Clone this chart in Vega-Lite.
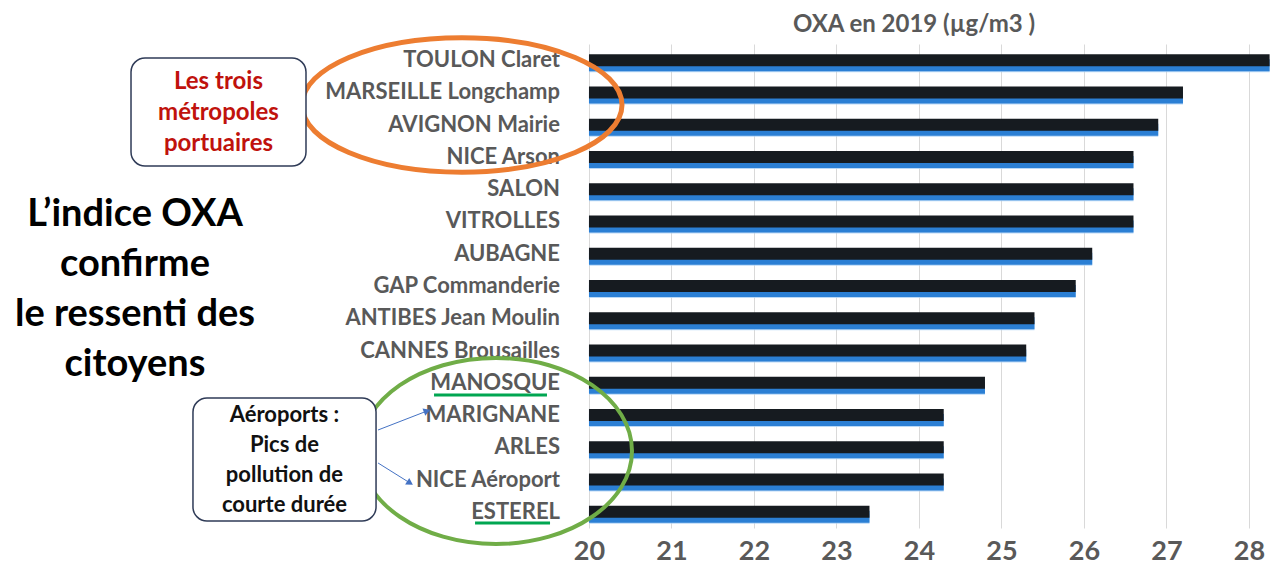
{
  "$schema": "https://vega.github.io/schema/vega-lite/v6.json",
  "width": 1272,
  "height": 484,
  "autosize": {"type": "none"},
  "padding": {"left": 0, "right": 0, "top": 44, "bottom": 50},
  "background": "white",
  "title": {"text": "OXA en 2019 (µg/m3 )", "anchor": "middle", "frame": "group", "dx": 278, "offset": -9, "font": "Lato", "fontSize": 24, "fontWeight": "bold", "color": "#595959"},
  "config": {"view": {"stroke": null}, "font": "Lato"},
  "datasets": {
    "bars": [
      {"station": "TOULON Claret", "oxa": 28.25},
      {"station": "MARSEILLE Longchamp", "oxa": 27.2},
      {"station": "AVIGNON Mairie", "oxa": 26.9},
      {"station": "NICE Arson", "oxa": 26.6},
      {"station": "SALON", "oxa": 26.6},
      {"station": "VITROLLES", "oxa": 26.6},
      {"station": "AUBAGNE", "oxa": 26.1},
      {"station": "GAP Commanderie", "oxa": 25.9},
      {"station": "ANTIBES Jean Moulin", "oxa": 25.4},
      {"station": "CANNES Brousailles", "oxa": 25.3},
      {"station": "MANOSQUE", "oxa": 24.8},
      {"station": "MARIGNANE", "oxa": 24.3},
      {"station": "ARLES", "oxa": 24.3},
      {"station": "NICE Aéroport", "oxa": 24.3},
      {"station": "ESTEREL", "oxa": 23.4}
    ]
  },
  "layer": [
    {
      "data": {"name": "bars"},
      "mark": {"type": "bar", "size": 10, "yOffset": 7, "color": "#a9d0f5", "opacity": 0.8},
      "encoding": {
        "y": {"field": "station", "type": "nominal", "sort": null, "axis": null},
        "x": {"field": "oxa", "type": "quantitative", "title": null, "scale": {"domain": [12.861, 28.279], "nice": false, "zero": false},
          "axis": {"values": [20, 21, 22, 23, 24, 25, 26, 27, 28], "grid": true, "gridColor": "#d9d9d9", "gridWidth": 1, "domain": false, "ticks": false, "labelFont": "Lato", "labelFontWeight": "bold", "labelFontSize": 27, "labelColor": "#595959", "labelPadding": 10}},
        "x2": {"datum": 20}
      }
    },
    {
      "data": {"name": "bars"},
      "mark": {"type": "bar", "size": 12, "yOffset": 5, "color": "#2b7fd4"},
      "encoding": {
        "y": {"field": "station", "type": "nominal", "sort": null, "axis": null},
        "x": {"field": "oxa", "type": "quantitative", "title": null, "scale": {"domain": [12.861, 28.279], "nice": false, "zero": false},
          "axis": {"values": [20, 21, 22, 23, 24, 25, 26, 27, 28], "grid": true, "gridColor": "#d9d9d9", "gridWidth": 1, "domain": false, "ticks": false, "labelFont": "Lato", "labelFontWeight": "bold", "labelFontSize": 27, "labelColor": "#595959", "labelPadding": 10}},
        "x2": {"datum": 20}
      }
    },
    {
      "data": {"name": "bars"},
      "mark": {"type": "bar", "size": 12, "color": "#161b20"},
      "encoding": {
        "y": {"field": "station", "type": "nominal", "sort": null, "axis": null},
        "x": {"field": "oxa", "type": "quantitative", "title": null, "scale": {"domain": [12.861, 28.279], "nice": false, "zero": false},
          "axis": {"values": [20, 21, 22, 23, 24, 25, 26, 27, 28], "grid": true, "gridColor": "#d9d9d9", "gridWidth": 1, "domain": false, "ticks": false, "labelFont": "Lato", "labelFontWeight": "bold", "labelFontSize": 27, "labelColor": "#595959", "labelPadding": 10}},
        "x2": {"datum": 20}
      }
    },
    {
      "data": {"name": "bars"},
      "mark": {"type": "text", "align": "right", "baseline": "middle", "dx": -29, "font": "Lato", "fontSize": 22, "fontWeight": "bold", "color": "#595959"},
      "encoding": {
        "y": {"field": "station", "type": "nominal", "sort": null, "axis": null},
        "x": {"datum": 20, "type": "quantitative", "title": null, "scale": {"domain": [12.861, 28.279], "nice": false, "zero": false},
          "axis": {"values": [20, 21, 22, 23, 24, 25, 26, 27, 28], "grid": true, "gridColor": "#d9d9d9", "gridWidth": 1, "domain": false, "ticks": false, "labelFont": "Lato", "labelFontWeight": "bold", "labelFontSize": 27, "labelColor": "#595959", "labelPadding": 10}},
        "text": {"field": "station"}
      }
    },
    {
      "data": {"values": [{"x": 18.461, "r": 2.39}]},
      "mark": {"type": "point", "shape": "M -1 0 C -1 -0.232 -0.5523 -0.42 0 -0.42 C 0.5523 -0.42 1 -0.232 1 0 C 1 0.232 0.5523 0.42 0 0.42 C -0.5523 0.42 -1 0.232 -1 0 Z", "size": 102400, "filled": false, "color": "#ED7D31", "stroke": "#ED7D31", "strokeWidth": 5, "opacity": 1},
      "encoding": {
        "x": {"field": "x", "type": "quantitative", "title": null, "scale": {"domain": [12.861, 28.279], "nice": false, "zero": false},
          "axis": {"values": [20, 21, 22, 23, 24, 25, 26, 27, 28], "grid": true, "gridColor": "#d9d9d9", "gridWidth": 1, "domain": false, "ticks": false, "labelFont": "Lato", "labelFontWeight": "bold", "labelFontSize": 27, "labelColor": "#595959", "labelPadding": 10}},
        "y": {"field": "r", "type": "quantitative", "axis": null, "scale": {"domain": [0.5, 15.5], "reverse": true, "nice": false, "zero": false}}
      }
    },
    {
      "data": {"values": [{"x": 18.873, "r": 13.113}]},
      "mark": {"type": "point", "shape": "M -1 0 C -1 -0.378 -0.5523 -0.684 0 -0.684 C 0.5523 -0.684 1 -0.378 1 0 C 1 0.378 0.5523 0.684 0 0.684 C -0.5523 0.684 -1 0.378 -1 0 Z", "size": 73984, "filled": false, "color": "#70AD47", "stroke": "#70AD47", "strokeWidth": 4, "opacity": 1},
      "encoding": {
        "x": {"field": "x", "type": "quantitative", "title": null, "scale": {"domain": [12.861, 28.279], "nice": false, "zero": false},
          "axis": {"values": [20, 21, 22, 23, 24, 25, 26, 27, 28], "grid": true, "gridColor": "#d9d9d9", "gridWidth": 1, "domain": false, "ticks": false, "labelFont": "Lato", "labelFontWeight": "bold", "labelFontSize": 27, "labelColor": "#595959", "labelPadding": 10}},
        "y": {"field": "r", "type": "quantitative", "axis": null, "scale": {"domain": [0.5, 15.5], "reverse": true, "nice": false, "zero": false}}
      }
    },
    {
      "data": {"values": [{"x1": 14.449, "x2": 16.570, "r1": 0.934, "r2": 4.281}, {"x1": 15.200, "x2": 17.419, "r1": 11.471, "r2": 15.283}]},
      "mark": {"type": "rect", "fill": "white", "stroke": "#2f3b57", "strokeWidth": 1.5, "cornerRadius": 14},
      "encoding": {
        "x": {"field": "x1", "type": "quantitative", "title": null, "scale": {"domain": [12.861, 28.279], "nice": false, "zero": false},
          "axis": {"values": [20, 21, 22, 23, 24, 25, 26, 27, 28], "grid": true, "gridColor": "#d9d9d9", "gridWidth": 1, "domain": false, "ticks": false, "labelFont": "Lato", "labelFontWeight": "bold", "labelFontSize": 27, "labelColor": "#595959", "labelPadding": 10}},
        "x2": {"field": "x2"},
        "y": {"field": "r1", "type": "quantitative", "axis": null, "scale": {"domain": [0.5, 15.5], "reverse": true, "nice": false, "zero": false}},
        "y2": {"field": "r2"}
      }
    },
    {
      "data": {"values": [{"x1": 17.443, "x2": 18.037, "r1": 12.463, "r2": 11.874}, {"x1": 17.443, "x2": 17.831, "r1": 13.485, "r2": 14.105}]},
      "mark": {"type": "rule", "color": "#4472C4", "strokeWidth": 1},
      "encoding": {
        "x": {"field": "x1", "type": "quantitative", "title": null, "scale": {"domain": [12.861, 28.279], "nice": false, "zero": false},
          "axis": {"values": [20, 21, 22, 23, 24, 25, 26, 27, 28], "grid": true, "gridColor": "#d9d9d9", "gridWidth": 1, "domain": false, "ticks": false, "labelFont": "Lato", "labelFontWeight": "bold", "labelFontSize": 27, "labelColor": "#595959", "labelPadding": 10}},
        "x2": {"field": "x2"},
        "y": {"field": "r1", "type": "quantitative", "axis": null, "scale": {"domain": [0.5, 15.5], "reverse": true, "nice": false, "zero": false}},
        "y2": {"field": "r2"}
      }
    },
    {
      "data": {"values": [{"x": 18.037, "r": 11.874, "a": -21}, {"x": 17.831, "r": 14.105, "a": 32}]},
      "mark": {"type": "point", "shape": "triangle-right", "size": 60, "filled": true, "color": "#4472C4", "opacity": 1},
      "encoding": {
        "x": {"field": "x", "type": "quantitative", "title": null, "scale": {"domain": [12.861, 28.279], "nice": false, "zero": false},
          "axis": {"values": [20, 21, 22, 23, 24, 25, 26, 27, 28], "grid": true, "gridColor": "#d9d9d9", "gridWidth": 1, "domain": false, "ticks": false, "labelFont": "Lato", "labelFontWeight": "bold", "labelFontSize": 27, "labelColor": "#595959", "labelPadding": 10}},
        "y": {"field": "r", "type": "quantitative", "axis": null, "scale": {"domain": [0.5, 15.5], "reverse": true, "nice": false, "zero": false}},
        "angle": {"field": "a", "type": "quantitative", "scale": null}
      }
    },
    {
      "data": {"values": [{"x1": 18.122, "x2": 19.491, "r": 11.378}, {"x1": 18.619, "x2": 19.528, "r": 15.345}]},
      "mark": {"type": "rule", "color": "#00A651", "strokeWidth": 3},
      "encoding": {
        "x": {"field": "x1", "type": "quantitative", "title": null, "scale": {"domain": [12.861, 28.279], "nice": false, "zero": false},
          "axis": {"values": [20, 21, 22, 23, 24, 25, 26, 27, 28], "grid": true, "gridColor": "#d9d9d9", "gridWidth": 1, "domain": false, "ticks": false, "labelFont": "Lato", "labelFontWeight": "bold", "labelFontSize": 27, "labelColor": "#595959", "labelPadding": 10}},
        "x2": {"field": "x2"},
        "y": {"field": "r", "type": "quantitative", "axis": null, "scale": {"domain": [0.5, 15.5], "reverse": true, "nice": false, "zero": false}}
      }
    },
    {
      "data": {"values": [{"x": 15.509, "r": 1.678, "t": "Les trois\nmétropoles\nportuaires"}]},
      "mark": {"type": "text", "align": "center", "baseline": "middle", "lineBreak": "\n", "lineHeight": 31, "font": "Lato", "fontSize": 24, "fontWeight": "bold", "color": "#C0120C"},
      "encoding": {
        "x": {"field": "x", "type": "quantitative", "title": null, "scale": {"domain": [12.861, 28.279], "nice": false, "zero": false},
          "axis": {"values": [20, 21, 22, 23, 24, 25, 26, 27, 28], "grid": true, "gridColor": "#d9d9d9", "gridWidth": 1, "domain": false, "ticks": false, "labelFont": "Lato", "labelFontWeight": "bold", "labelFontSize": 27, "labelColor": "#595959", "labelPadding": 10}},
        "y": {"field": "r", "type": "quantitative", "axis": null, "scale": {"domain": [0.5, 15.5], "reverse": true, "nice": false, "zero": false}},
        "text": {"field": "t"}
      }
    },
    {
      "data": {"values": [{"x": 16.309, "r": 11.998, "t": "Aéroports :\nPics de\npollution de\ncourte durée"}]},
      "mark": {"type": "text", "align": "center", "baseline": "middle", "lineBreak": "\n", "lineHeight": 30, "font": "Lato", "fontSize": 22, "fontWeight": "bold", "color": "#111111"},
      "encoding": {
        "x": {"field": "x", "type": "quantitative", "title": null, "scale": {"domain": [12.861, 28.279], "nice": false, "zero": false},
          "axis": {"values": [20, 21, 22, 23, 24, 25, 26, 27, 28], "grid": true, "gridColor": "#d9d9d9", "gridWidth": 1, "domain": false, "ticks": false, "labelFont": "Lato", "labelFontWeight": "bold", "labelFontSize": 27, "labelColor": "#595959", "labelPadding": 10}},
        "y": {"field": "r", "type": "quantitative", "axis": null, "scale": {"domain": [0.5, 15.5], "reverse": true, "nice": false, "zero": false}},
        "text": {"field": "t"}
      }
    },
    {
      "data": {"values": [{"x": 14.497, "r": 5.8, "t": "L’indice OXA\nconfirme\nle ressenti des\ncitoyens"}]},
      "mark": {"type": "text", "align": "center", "baseline": "middle", "lineBreak": "\n", "lineHeight": 50, "font": "Lato", "fontSize": 38, "fontWeight": "bold", "color": "#000000"},
      "encoding": {
        "x": {"field": "x", "type": "quantitative", "title": null, "scale": {"domain": [12.861, 28.279], "nice": false, "zero": false},
          "axis": {"values": [20, 21, 22, 23, 24, 25, 26, 27, 28], "grid": true, "gridColor": "#d9d9d9", "gridWidth": 1, "domain": false, "ticks": false, "labelFont": "Lato", "labelFontWeight": "bold", "labelFontSize": 27, "labelColor": "#595959", "labelPadding": 10}},
        "y": {"field": "r", "type": "quantitative", "axis": null, "scale": {"domain": [0.5, 15.5], "reverse": true, "nice": false, "zero": false}},
        "text": {"field": "t"}
      }
    }
  ],
  "resolve": {"scale": {"y": "independent"}}
}
